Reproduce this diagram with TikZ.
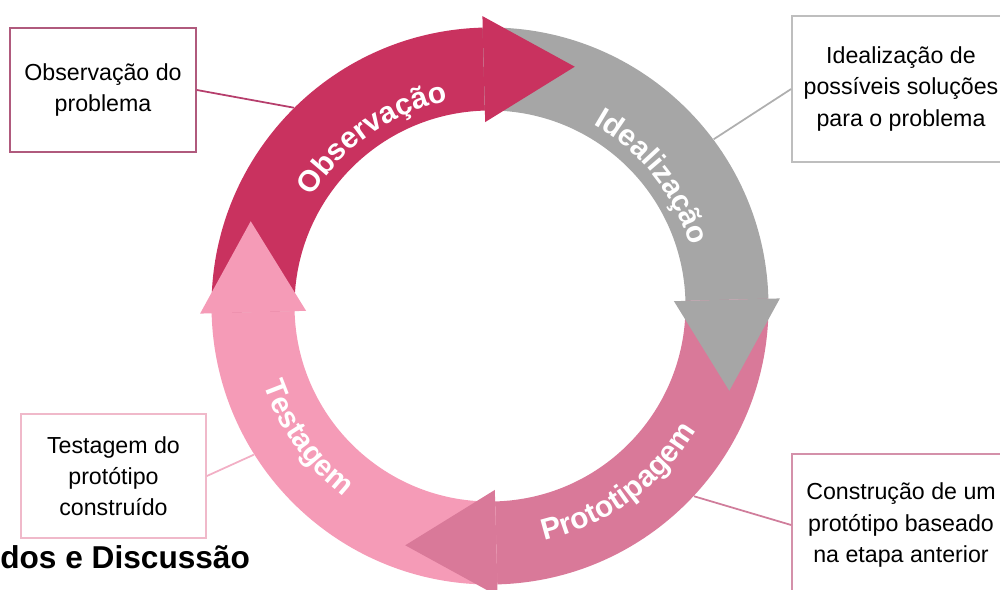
\documentclass[tikz,border=0pt]{standalone}
\usepackage{fontspec}
\setmainfont{Liberation Sans}
\usetikzlibrary{calc,decorations.text,positioning}

\definecolor{obsred}{RGB}{201,50,95}
\definecolor{ideagray}{RGB}{166,166,166}
\definecolor{protopink}{RGB}{217,121,153}
\definecolor{testpink}{RGB}{245,155,183}
\definecolor{obsframe}{RGB}{176,90,125}
\definecolor{ideaframe}{RGB}{190,190,190}
\definecolor{testframe}{RGB}{240,185,202}
\definecolor{protoframe}{RGB}{212,145,170}

\begin{document}
\begin{tikzpicture}
[x=0.02cm, y=0.02cm,
box/.style={shape=rectangle, draw, line width=1pt, fill=white, align=center,
  inner sep=0pt, font=\fontsize{13.2}{17.8}\selectfont},
link/.style={line width=1pt},
ringlabel/.style={decorate, decoration={text along path, text align=center,
  text={|\fontsize{17}{20}\selectfont\bfseries\color{white}|#1}}}]
\useasboundingbox (0,0) rectangle (1000,589);
%%%%%%%%%%
%% boxes
\node (obsbox) [box, draw=obsframe, minimum width=3.72cm, minimum height=2.48cm]
  at (103,499) {Observação do\\problema};
\node (ideabox) [box, draw=ideaframe, minimum width=4.36cm, minimum height=2.92cm]
  at (901,500) {Idealização de\\possíveis soluções\\para o problema};
\node (testbox) [box, draw=testframe, minimum width=3.7cm, minimum height=2.48cm]
  at (113.5,113) {Testagem do\\protótipo\\construído};
\node (protobox) [box, draw=protoframe, minimum width=4.36cm, minimum height=2.84cm]
  at (901,64) {Construção de um\\protótipo baseado\\na etapa anterior};
%% heading
\node (heading) [anchor=base west, inner sep=0pt, font=\fontsize{18}{21}\selectfont\bfseries]
  at (0,21) {dos e Discussão};
%%%%%%%%%%
%% cycle
\begin{scope}[shift={(490,283)}]
\def\rin{195.5}
\def\rout{278.5}
%% connector ends on the ring
\coordinate (obsend) at (134.7:279);
\coordinate (ideaend) at (36.7:279);
\coordinate (testend) at (212.2:279);
\coordinate (protoend) at (-43:279);
\draw[link, draw={rgb,255:red,182;green,62;blue,108}] (obsbox.east) -- (obsend);
\draw[link, draw={rgb,255:red,175;green,175;blue,175}] (ideabox.west) -- (ideaend);
\draw[link, draw={rgb,255:red,242;green,175;blue,197}] (testbox.east) -- (testend);
\draw[link, draw={rgb,255:red,208;green,125;blue,155}] (protobox.west) -- (protoend);
%% bodies
\fill[obsred] (181.5:\rout) arc[start angle=181.5, end angle=91.5, radius=\rout]
  -- (91.5:\rin) arc[start angle=91.5, end angle=181.5, radius=\rin] -- cycle;
\fill[ideagray] (91.5:\rout) arc[start angle=91.5, end angle=1.5, radius=\rout]
  -- (1.5:\rin) arc[start angle=1.5, end angle=91.5, radius=\rin] -- cycle;
\fill[protopink] (1.5:\rout) arc[start angle=1.5, end angle=-88.5, radius=\rout]
  -- (-88.5:\rin) arc[start angle=-88.5, end angle=1.5, radius=\rin] -- cycle;
\fill[testpink] (271.5:\rout) arc[start angle=271.5, end angle=181.5, radius=\rout]
  -- (181.5:\rin) arc[start angle=181.5, end angle=271.5, radius=\rin] -- cycle;
%% heads
\fill[obsred] (91.5:184) -- (91.5:290) -- ($(91.5:237)+(1.5:91)$) -- cycle;
\fill[ideagray] (1.5:184) -- (1.5:290) -- ($(1.5:237)+(-88.5:91)$) -- cycle;
\fill[protopink] (271.5:184) -- (271.5:290) -- ($(271.5:237)+(181.5:91)$) -- cycle;
\fill[testpink] (181.5:184) -- (181.5:290) -- ($(181.5:237)+(91.5:91)$) -- cycle;
%% labels
\path[ringlabel=Observação] (175:209) arc[start angle=175, end angle=75, radius=209];
\path[ringlabel=Idealização] (88.5:209) arc[start angle=88.5, end angle=-11.5, radius=209];
\path[ringlabel=Prototipagem] (256:241) arc[start angle=256, end angle=356, radius=241];
\path[ringlabel=Testagem] (165.8:240) arc[start angle=165.8, end angle=265.8, radius=240];
\end{scope}
\end{tikzpicture}
\end{document}
